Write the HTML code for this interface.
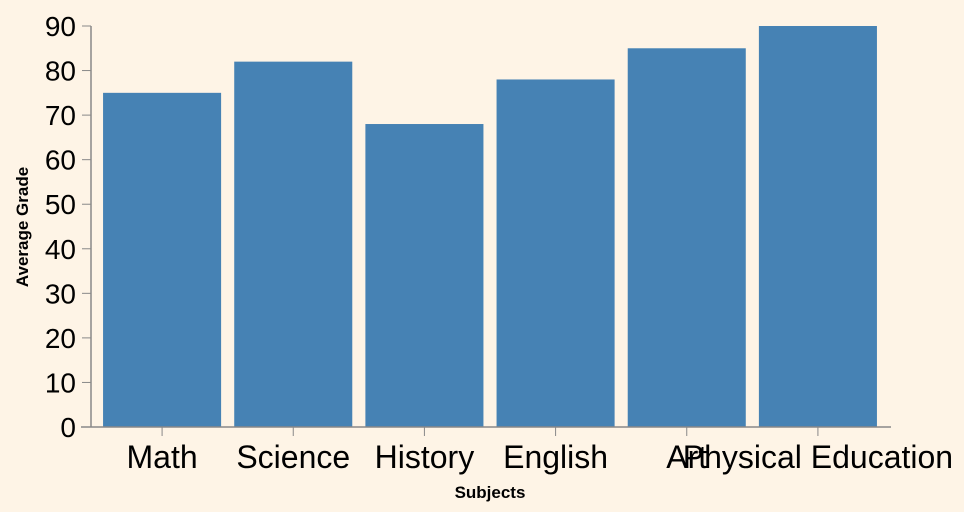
<!DOCTYPE html>
<html><head><meta charset="utf-8"><style>
html,body{margin:0;padding:0;background:#fef4e6;}
svg{display:block;font-family:"Liberation Sans",Arial,sans-serif;}
</style></head><body>
<svg id="chart" width="964" height="512" viewBox="0 0 964 512"></svg>
<script>
const categories = ["Math","Science","History","English","Art","Physical Education"];
const values = [75,82,68,78,85,90];
const yTicks = [0,10,20,30,40,50,60,70,80,90];

const svg = document.getElementById('chart');
const NS = 'http://www.w3.org/2000/svg';
const axX = 91, xLeft = 81, xRight = 891;
const x0 = 96.5, x1 = 883.5, yTop = 26, yBot = 427, yMax = 90;
const step = (x1 - x0) / categories.length;
const bw = step * 0.9;
function xBand(i){ return x0 + step*0.05 + i*step; }
function yScale(v){ return yBot - (v / yMax) * (yBot - yTop); }
function mk(tag, attrs){ const e = document.createElementNS(NS, tag); for (const k in attrs) e.setAttribute(k, attrs[k]); svg.appendChild(e); return e; }

const bg = mk('rect',{x:0,y:0,width:964,height:512,fill:'#fef4e6'});



categories.forEach((c,i)=>{
  const v = values[i];
  const r = mk('rect',{x:xBand(i),y:yScale(v),width:bw,height:yBot-yScale(v),fill:'#4682b4'});
  
  
  const cx = xBand(i) + bw/2;
  const t = mk('line',{x1:cx,x2:cx,y1:yBot,y2:yBot+9,stroke:'#888',"stroke-width":1});
  
  
  const l = mk('text',{x:cx,y:468,"text-anchor":"middle","font-size":32,fill:'#000'});
  l.textContent = c;
  
  
});

yTicks.forEach(v=>{
  const y = yScale(v);
  const t = mk('line',{x1:axX-9,x2:axX,y1:y,y2:y,stroke:'#888',"stroke-width":1});
  
  
  const l = mk('text',{x:76,y:y+10,"text-anchor":"end","font-size":28,fill:'#000'});
  l.textContent = v;
  
  
});

const ya = mk('line',{x1:axX,x2:axX,y1:yTop,y2:yBot,stroke:'#888',"stroke-width":1.5});


const xa = mk('line',{x1:xLeft,x2:xRight,y1:yBot,y2:yBot,stroke:'#888',"stroke-width":1.5});



const xt = mk('text',{x:490,y:498,"text-anchor":"middle","font-size":17,"font-weight":"bold",fill:'#000'});
xt.textContent = 'Subjects';


const yt = mk('text',{x:0,y:0,"text-anchor":"middle","font-size":17,"font-weight":"bold",fill:'#000',transform:'translate(28,227) rotate(-90)'});
yt.textContent = 'Average Grade';


</script>
</body></html>
